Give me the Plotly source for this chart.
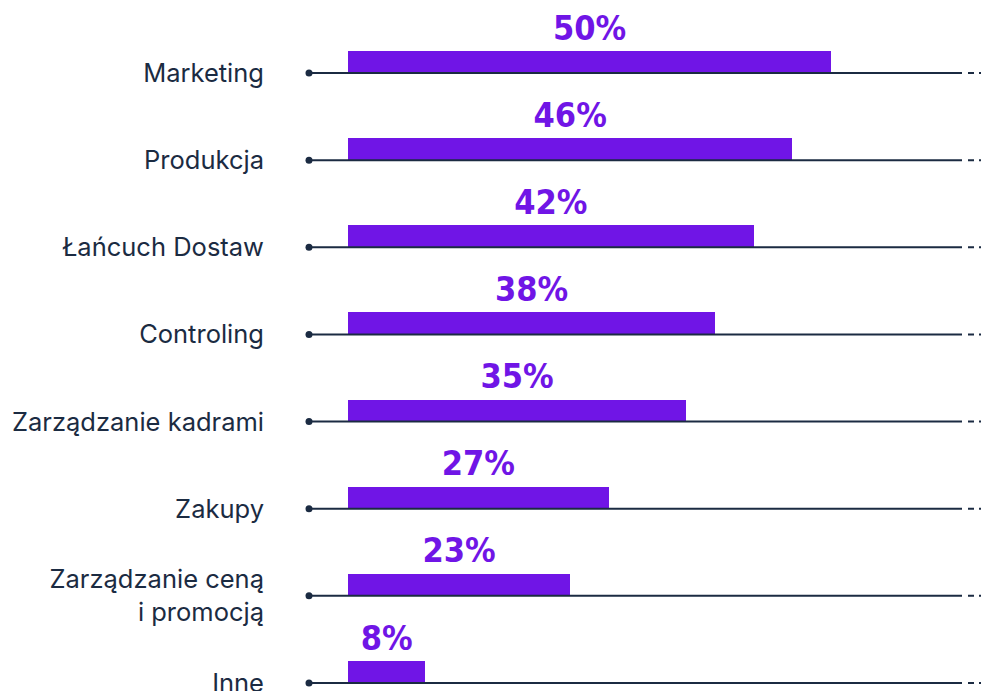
import plotly.graph_objects as go

categories = ["Marketing", "Produkcja", "Łańcuch Dostaw", "Controling",
              "Zarządzanie kadrami", "Zakupy", "Zarządzanie ceną<br>i promocją", "Inne"]
values = [50, 46, 42, 38, 35, 27, 23, 8]
value_labels = ["50%", "46%", "42%", "38%", "35%", "27%", "23%", "8%"]

OFF = 8  # page body margin offset
W, H = 989 - OFF, 691 - OFF
BAR_COLOR = "#7015E6"
INK = "#1B2B42"

# pixel geometry (page coordinates minus the body offset)
plot_left = 309 - OFF
zero_px = 348 - OFF
px_per_pct = 9.66
plot_right = W
x_min = -(zero_px - plot_left) / px_per_pct
x_max = (plot_right - zero_px) / px_per_pct

n = len(categories)
base_y = [n - 1 - i for i in range(n)]
px_per_unit = 87.14
t_margin, b_margin = 0, 0
last_base_px = 683 - OFF
y0 = -((H - b_margin - last_base_px) / px_per_unit)
y1 = y0 + (H - t_margin - b_margin) / px_per_unit

bar_h = 22 / px_per_unit
label_off = 42 / px_per_unit

fig = go.Figure()
fig.add_trace(go.Bar(
    x=values, y=[b + bar_h / 2 for b in base_y], orientation="h",
    width=bar_h, marker=dict(color=BAR_COLOR, line=dict(width=0)),
    hoverinfo="skip", showlegend=False,
))
fig.add_trace(go.Scatter(
    x=[v / 2 for v in values], y=[b + label_off for b in base_y],
    mode="text", text=value_labels,
    textfont=dict(family="Liberation Sans Narrow, DejaVu Sans Condensed, sans-serif",
                  size=34, color=BAR_COLOR, weight="bold"),
    textposition="middle center", hoverinfo="skip", showlegend=False,
    cliponaxis=False,
))
fig.add_trace(go.Scatter(
    x=[x_min] * n, y=base_y, mode="markers",
    marker=dict(size=7, color=INK), hoverinfo="skip", showlegend=False,
    cliponaxis=False,
))

solid_end = (962 - OFF - plot_left) / (plot_right - plot_left)
dash_start = (968 - OFF - plot_left) / (plot_right - plot_left)
for b in base_y:
    fig.add_shape(type="line", xref="paper", yref="y", x0=0, x1=solid_end, y0=b, y1=b,
                  line=dict(color=INK, width=2), layer="above")
    fig.add_shape(type="line", xref="paper", yref="y", x0=dash_start, x1=1.0, y0=b, y1=b,
                  line=dict(color=INK, width=2, dash="6px,5px"), layer="above")

fig.update_layout(
    width=W, height=H,
    margin=dict(l=plot_left, r=W - plot_right, t=t_margin, b=b_margin),
    paper_bgcolor="white", plot_bgcolor="white",
    xaxis=dict(range=[x_min, x_max], visible=False, fixedrange=True),
    yaxis=dict(range=[y0, y1], tickvals=base_y, ticktext=categories,
               showgrid=False, zeroline=False, showline=False, ticks="",
               ticklabelstandoff=44, automargin=False, fixedrange=True,
               ticklabeloverflow="allow",
               tickfont=dict(family="Inter, Liberation Sans, sans-serif", size=25.5, color=INK)),
    bargap=0,
)

fig.write_html("out.html")
